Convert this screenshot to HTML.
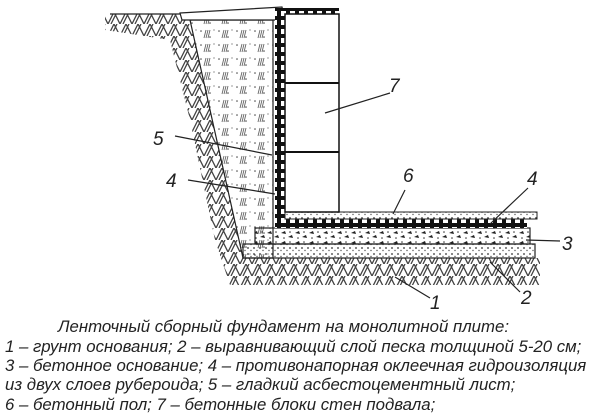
<!DOCTYPE html>
<html><head><meta charset="utf-8"><style>
html,body{margin:0;padding:0;background:#fff;}
body{width:600px;height:417px;overflow:hidden;position:relative;font-family:"Liberation Sans",sans-serif;}
.c{position:absolute;left:0;font-style:italic;font-size:16.8px;color:#222;white-space:nowrap;line-height:19px;}
</style></head><body>
<svg width="600" height="310" style="position:absolute;left:0;top:0" xmlns="http://www.w3.org/2000/svg">
<defs>
<pattern id="hatch" width="12" height="12" patternUnits="userSpaceOnUse">
<path d="M0 12 L6 0 M6 0 L12 12 M3 12 L9 0" stroke="#444" stroke-width="1.3" fill="none"/>
</pattern>
<pattern id="dots" width="6" height="6" patternUnits="userSpaceOnUse">
<circle cx="2" cy="2" r="0.9" fill="#333"/><circle cx="5" cy="4.5" r="0.7" fill="#555"/>
</pattern>
<pattern id="fill" width="18" height="14" patternUnits="userSpaceOnUse">
<circle cx="3" cy="3" r="0.8" fill="#444"/><circle cx="12" cy="9" r="0.8" fill="#444"/><circle cx="16" cy="2" r="0.6" fill="#555"/>
<path d="M8 2 l-2 8 M10 2 l-2 8 M12 2 l-2 8" stroke="#666" stroke-width="0.9"/>
</pattern>
<pattern id="conc" width="14" height="10" patternUnits="userSpaceOnUse">
<path d="M1 3 l4 -2 l1 3z M8 7 l4 -2 l1 3z" fill="#222"/><circle cx="10" cy="2" r="0.8" fill="#333"/><circle cx="4" cy="8" r="0.8" fill="#333"/>
</pattern>
<pattern id="check" width="9" height="9" patternUnits="userSpaceOnUse">
<rect width="9" height="9" fill="#111"/><rect x="2" y="2" width="5" height="5" fill="#fff"/>
</pattern>
</defs>
<path d="M105 14 L180 14 L190 20 L243 258 L540 258 L540 285 L230 285 L215 240 L190 120 L170 40 L105 30 Z" fill="url(#hatch)"/>
<line x1="110" y1="14" x2="180" y2="14" stroke="#222" stroke-width="1.2"/>
<path d="M190 20 L273 20 L273 258 L243 258 Z" fill="url(#fill)" stroke="#222" stroke-width="1.2"/>
<path d="M180 13 L282 7 L285 20 L182 20 Z" fill="#fff" stroke="#222" stroke-width="1.2"/>
<rect x="243" y="244" width="292" height="14" fill="url(#dots)" stroke="#222" stroke-width="1.2"/>
<rect x="255" y="228" width="275" height="16" fill="url(#conc)" stroke="#222" stroke-width="1.2"/>
<rect x="275" y="8" width="10" height="218" fill="url(#check)"/>
<rect x="275" y="219" width="252" height="9" fill="url(#check)"/>
<rect x="285" y="8" width="54" height="7" fill="url(#check)"/>
<rect x="285" y="212" width="252" height="7" fill="url(#dots)" stroke="#222" stroke-width="1"/>
<rect x="285" y="14" width="54" height="198" fill="#fff" stroke="#111" stroke-width="1.5"/>
<line x1="285" y1="83" x2="339" y2="83" stroke="#111" stroke-width="2"/>
<line x1="285" y1="152" x2="339" y2="152" stroke="#111" stroke-width="2"/>
<g stroke="#222" stroke-width="1.2">
<line x1="390" y1="93" x2="325" y2="113"/>
<line x1="175" y1="136" x2="272" y2="155"/>
<line x1="188" y1="180" x2="275" y2="194"/>
<line x1="405" y1="190" x2="393" y2="214"/>
<line x1="528" y1="188" x2="490" y2="224"/>
<line x1="560" y1="241" x2="526" y2="240"/>
<line x1="430" y1="298" x2="395" y2="277"/>
<line x1="520" y1="292" x2="490" y2="262"/>
</g>
<g font-family="Liberation Sans,sans-serif" font-style="italic" font-size="19" fill="#222">
<text x="389" y="92">7</text>
<text x="153" y="145">5</text>
<text x="166" y="187">4</text>
<text x="403" y="182">6</text>
<text x="527" y="185">4</text>
<text x="562" y="250">3</text>
<text x="430" y="309">1</text>
<text x="521" y="304">2</text>
</g>
</svg>
<div class="c" style="top:317px;left:58px">Ленточный сборный фундамент на монолитной плите:</div>
<div class="c" style="top:337px;left:5px">1 – грунт основания; 2 – выравнивающий слой песка толщиной 5-20 см;</div>
<div class="c" style="top:356px;left:5px">3 – бетонное основание; 4 – противонапорная оклеечная гидроизоляция</div>
<div class="c" style="top:375px;left:5px">из двух слоев рубероида; 5 – гладкий асбестоцементный лист;</div>
<div class="c" style="top:395px;left:5px">6 – бетонный пол; 7 – бетонные блоки стен подвала;</div>
</body></html>
